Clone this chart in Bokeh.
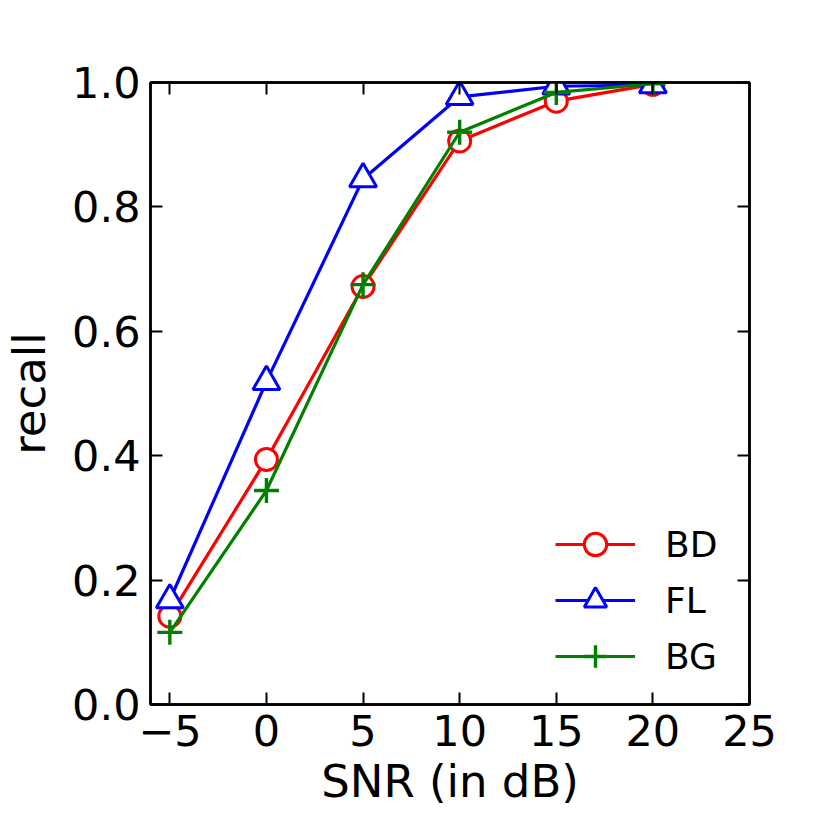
from bokeh.plotting import figure
from bokeh.models import FixedTicker, LinearAxis, Legend, LegendItem
from bokeh.embed import file_html
from bokeh.resources import INLINE

snr = [-5, 0, 5, 10, 15, 20]
bd = [0.142, 0.394, 0.672, 0.906, 0.970, 0.997]
fl = [0.168, 0.519, 0.845, 0.977, 0.994, 0.996]
bg = [0.116, 0.344, 0.675, 0.920, 0.984, 0.998]
x_ticks = [-5, 0, 5, 10, 15, 20, 25]
y_ticks = [0.0, 0.2, 0.4, 0.6, 0.8, 1.0]
x_labels = {-5: "\u22125", 0: "0", 5: "5", 10: "10", 15: "15", 20: "20", 25: "25"}
y_labels = {0: "0.0", 0.2: "0.2", 0.4: "0.4", 0.6: "0.6", 0.8: "0.8", 1: "1.0"}

FONT = "DejaVu Sans"

p = figure(frame_width=599, frame_height=622, x_range=(-6, 25), y_range=(0, 1),
           output_backend="svg", toolbar_location=None,
           min_border_left=139, min_border_right=68,
           min_border_top=82, min_border_bottom=110)
p.grid.visible = False
p.outline_line_color = "black"
p.outline_line_width = 2.5
p.background_fill_color = "white"
p.border_fill_color = "white"

def style_axis(ax, ticks, labels, show_labels=True):
    ax.ticker = FixedTicker(ticks=ticks)
    ax.major_tick_in = 12
    ax.major_tick_out = 0
    ax.minor_tick_line_color = None
    ax.major_tick_line_width = 2
    ax.major_tick_line_color = "black"
    ax.axis_line_width = 2.5
    ax.axis_line_color = "black"
    if show_labels:
        ax.major_label_overrides = labels
        ax.major_label_text_font = FONT
        ax.major_label_text_font_size = "43px"
        ax.major_label_text_color = "black"
        ax.major_label_standoff = 10
    else:
        ax.major_label_text_font_size = "1px"
        ax.major_label_text_color = None
        ax.major_label_standoff = 0

style_axis(p.xaxis[0], x_ticks, x_labels)
style_axis(p.yaxis[0], y_ticks, y_labels)
p.xaxis.axis_label = "SNR (in dB)"
p.yaxis.axis_label = "recall"
for ax in (p.xaxis[0], p.yaxis[0]):
    ax.axis_label_text_font = FONT
    ax.axis_label_text_font_size = "45px"
    ax.axis_label_text_font_style = "normal"
    ax.axis_label_text_color = "black"
p.xaxis.axis_label_standoff = 6
p.yaxis.axis_label_standoff = 13

top = LinearAxis()
style_axis(top, x_ticks, x_labels, show_labels=False)
p.add_layout(top, "above")
right = LinearAxis()
style_axis(right, y_ticks, y_labels, show_labels=False)
p.add_layout(right, "right")

LW = 3.2
l1 = p.line(snr, bd, line_color="#ff0000", line_width=LW)
m1 = p.scatter(snr, bd, marker="circle", size=22, line_color="#ff0000",
               fill_color="white", line_width=3.0)
l2 = p.line(snr, fl, line_color="#0000ff", line_width=LW)
m2 = p.scatter(snr, fl, marker="triangle", size=27, line_color="#0000ff",
               fill_color="white", line_width=3.0)
l3 = p.line(snr, bg, line_color="#008000", line_width=LW)
m3 = p.scatter(snr, bg, marker="cross", size=25, line_color="#008000",
               line_width=3.4)

legend = Legend(items=[
    LegendItem(label="BD", renderers=[l1, m1]),
    LegendItem(label="FL", renderers=[l2, m2]),
    LegendItem(label="BG", renderers=[l3, m3]),
], location=(405, 20))
legend.glyph_width = 80
legend.glyph_height = 56
legend.spacing = 0
legend.padding = 0
legend.margin = 0
legend.label_standoff = 30
legend.label_text_font = FONT
legend.label_text_font_size = "36px"
legend.label_text_color = "black"
legend.border_line_color = None
legend.background_fill_alpha = 0
p.add_layout(legend, "center")

open("out.html", "w").write(file_html(p, INLINE))
